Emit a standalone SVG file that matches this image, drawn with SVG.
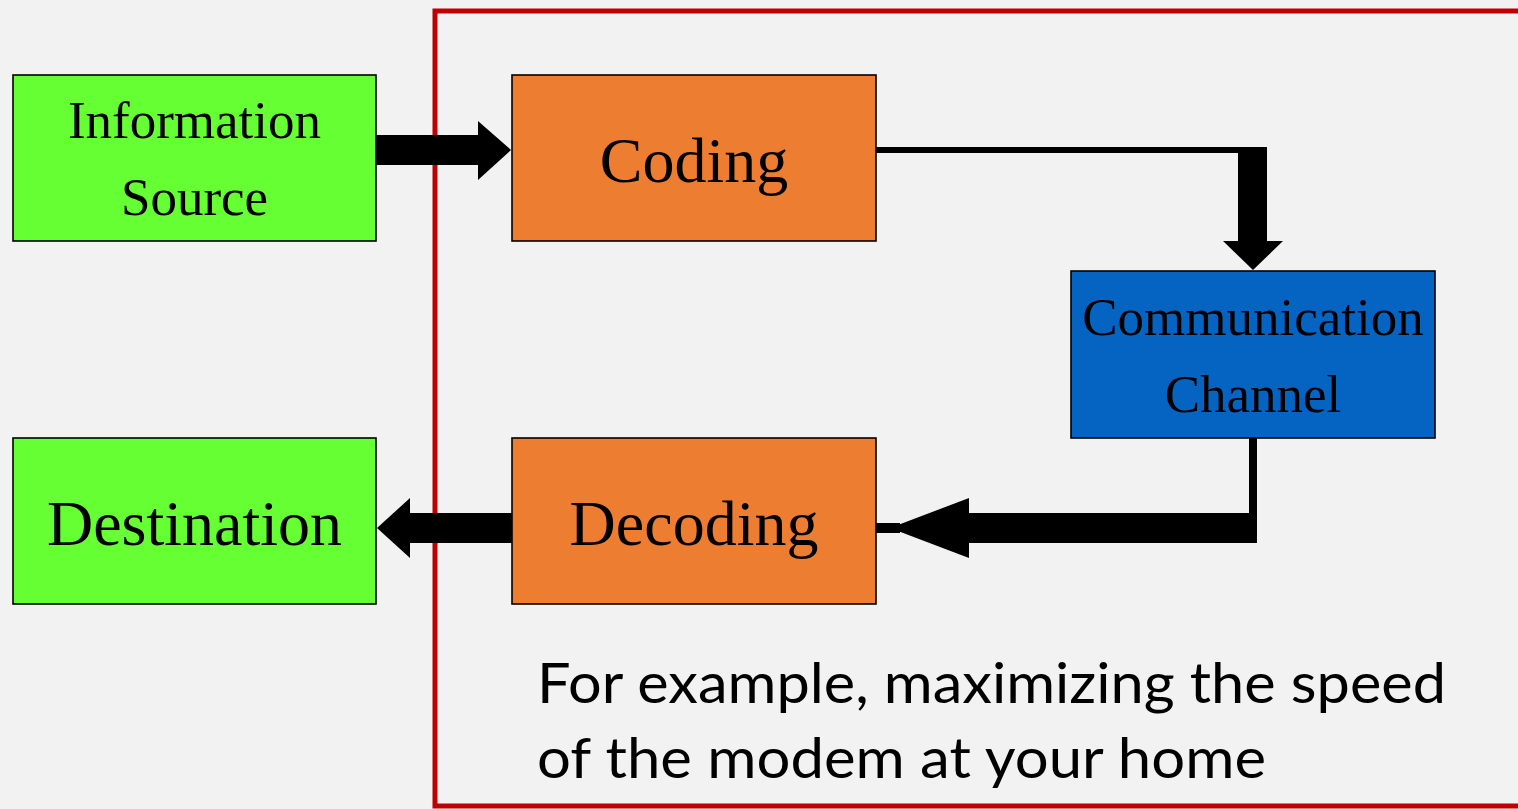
<svg xmlns="http://www.w3.org/2000/svg" width="1518" height="809" viewBox="0 0 1518 809">
  <style>
    .box { stroke: #000; stroke-width: 1.6; }
    .src { fill: #66FF33; }
    .proc { fill: #ED7D31; }
    .chan { fill: #0563C1; }
    .lbl { font-family: "Liberation Serif", "Times New Roman", serif; fill: #000; text-anchor: middle; }
    .big { font-size: 64px; }
    .mid { font-size: 53px; }
    .note { font-family: Lato, "Open Sans", sans-serif; font-size: 57px; fill: #000; }
    .conn { fill: #000; }
  </style>

  <!-- page background -->
  <rect x="0" y="0" width="1518" height="809" fill="#F2F2F2"/>

  <!-- frame around the coding section -->
  <rect x="435" y="11" width="1100" height="795" fill="none" stroke="#C00000" stroke-width="5"/>

  <!-- connectors -->
  <g id="connectors" class="conn">
    <!-- Information Source to Coding -->
    <path id="c-source-coding" d="M376 135 H478 V121 L511 150 L478 180 V165 H376 Z"/>
    <!-- Coding to Communication Channel -->
    <path id="c-coding-channel" d="M876 147 H1267 V241 H1283 L1253 270 L1223 241 H1238 V153 H876 Z"/>
    <!-- Communication Channel to Decoding -->
    <path id="c-channel-decoding" d="M1249 438 H1257 V543 H969 V558 L890 528 L969 498 V513 H1249 Z M876 523 H900 V533 H876 Z"/>
    <!-- Decoding to Destination -->
    <path id="c-decoding-destination" d="M512 513 H410 V498 L377 528 L410 558 V543 H512 Z"/>
  </g>

  <!-- nodes -->
  <g id="information-source">
    <rect class="box src" x="13" y="75" width="363" height="166"/>
    <text class="lbl mid" x="194.5" y="138">Information</text>
    <text class="lbl mid" x="194.5" y="215">Source</text>
  </g>

  <g id="coding">
    <rect class="box proc" x="512" y="75" width="364" height="166"/>
    <text class="lbl big" x="694" y="182">Coding</text>
  </g>

  <g id="communication-channel">
    <rect class="box chan" x="1071" y="271" width="364" height="167"/>
    <text class="lbl mid" x="1253" y="335">Communication</text>
    <text class="lbl mid" x="1253" y="412">Channel</text>
  </g>

  <g id="decoding">
    <rect class="box proc" x="512" y="438" width="364" height="166"/>
    <text class="lbl big" x="694" y="545">Decoding</text>
  </g>

  <g id="destination">
    <rect class="box src" x="13" y="438" width="363" height="166"/>
    <text class="lbl big" x="194.5" y="545">Destination</text>
  </g>

  <!-- explanatory note -->
  <g id="note">
    <text class="note" x="537" y="703" textLength="909" lengthAdjust="spacingAndGlyphs">For example, maximizing the speed</text>
    <text class="note" x="537" y="778" textLength="729" lengthAdjust="spacingAndGlyphs">of the modem at your home</text>
  </g>
</svg>
